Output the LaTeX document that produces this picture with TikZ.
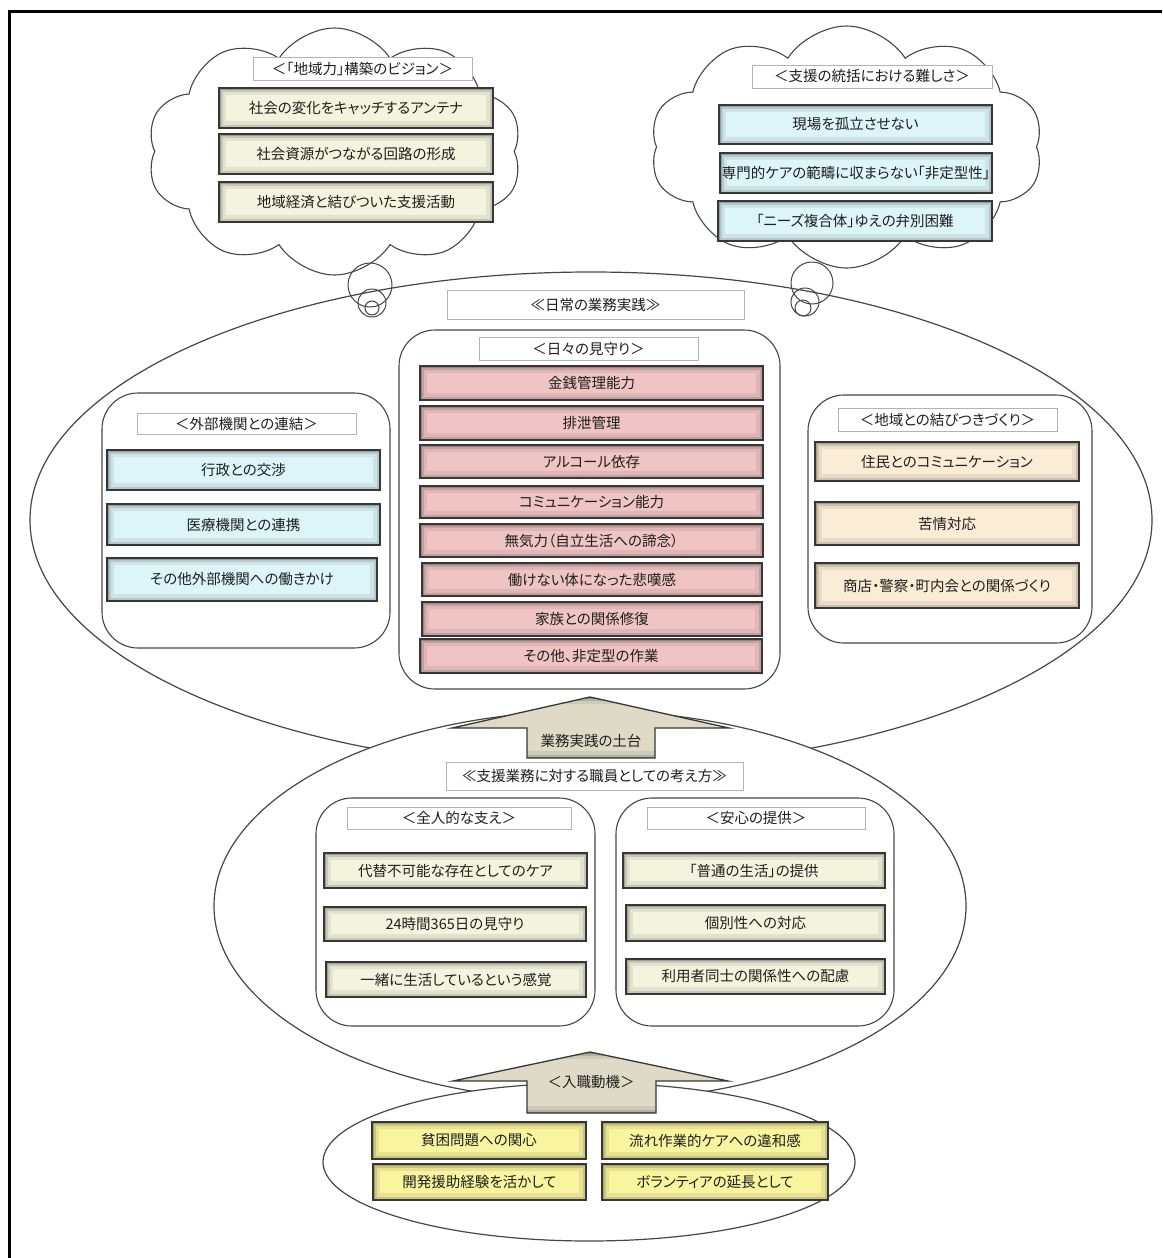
\documentclass[tikz,border=0pt]{standalone}
\usepackage{fontspec}
\setmainfont{Noto Sans CJK JP}[RawFeature=+palt]
\usetikzlibrary{shapes.symbols,shapes.geometric}

\definecolor{cream}{RGB}{244,244,222}
\definecolor{cyanl}{RGB}{221,245,249}
\definecolor{pinkb}{RGB}{240,196,196}
\definecolor{peach}{RGB}{251,236,214}
\definecolor{yell}{RGB}{249,244,158}
\definecolor{beige}{RGB}{222,218,198}
\definecolor{edge}{RGB}{55,55,55}
\definecolor{titleedge}{RGB}{180,180,180}
\definecolor{lineg}{RGB}{70,70,70}
\definecolor{ink}{RGB}{30,30,30}

% box from corner (#3,#4) to corner (#5,#6)
\newcommand\boxat[7]{%
  \node[#2, minimum width={#5pt-#3pt}, minimum height={#6pt-#4pt}] (#1) at ({(#3+#5)/2},{(#4+#6)/2}) {#7};}

\tikzset{
  txt/.style={font=\fontsize{14.5}{16}\selectfont, text=ink},
  bevelfx/.style={path picture={
      \draw[black,opacity=.07,line width=14pt] (path picture bounding box.south west) rectangle (path picture bounding box.north east);
      \draw[black,opacity=.12,line width=7pt] (path picture bounding box.south west) rectangle (path picture bounding box.north east);
      \draw[black,opacity=.20,line width=3pt] (path picture bounding box.south west) rectangle (path picture bounding box.north east);
    }},
  bevel/.style={rectangle, fill=#1, draw=edge, line width=1.3pt, txt, bevelfx},
  ttl/.style={rectangle, fill=white, draw=titleedge, line width=1pt, txt},
  grp/.style={rectangle, rounded corners=36pt, fill=white, draw=lineg, line width=1.1pt},
  ell/.style={ellipse, fill=white, draw=lineg, line width=1.2pt},
  cld/.style={cloud, cloud puffs=10, cloud puff arc=115, fill=white, draw=lineg, line width=1.1pt},
  bub/.style={circle, draw=lineg, line width=1pt},
  fatarrow/.style={fill=beige, draw=edge, line width=1.3pt, bevelfx},
}

\begin{document}
\begin{tikzpicture}[x=1pt,y=-1pt, every node/.style={inner sep=0pt,outer sep=0pt}]
\useasboundingbox (0,0) rectangle (1162,1258);
% page frame
\draw[line width=3pt,black] (9.5,1258) -- (9.5,11.5) -- (1162,11.5);

% three stacked ellipses
\node[ell, minimum width=1122pt, minimum height=496pt] (daily) at (591,520) {};
\node[ell, minimum width=752pt, minimum height=390pt] (mind) at (590,906) {};
\node[ell, minimum width=532pt, minimum height=158pt] (motive) at (589,1162) {};

% thought clouds
\node[cld, minimum width=375pt, minimum height=247pt] (vision) at (334.5,151.5) {};
\node[cld, minimum width=393pt, minimum height=242pt] (hard) at (846.5,147) {};

\node[bub, minimum size=44pt] (vb1) at (370,285) {};
\node[bub, minimum size=28pt] (vb2) at (372,303) {};
\node[bub, minimum size=14pt] (vb3) at (372,308) {};
\node[bub, minimum size=42pt] (hb1) at (812,283) {};
\node[bub, minimum size=28pt] (hb2) at (805,302) {};
\node[bub, minimum size=16pt] (hb3) at (803,308) {};

% cloud: vision
\boxat{vt}{ttl}{253}{57}{472}{80}{＜「地域力」構築のビジョン＞}
\boxat{v1}{bevel=cream}{219}{88}{493}{128}{社会の変化をキャッチするアンテナ}
\boxat{v2}{bevel=cream}{219}{134}{493}{174}{社会資源がつながる回路の形成}
\boxat{v3}{bevel=cream}{219}{182}{493}{222}{地域経済と結びついた支援活動}

% cloud: difficulty
\boxat{ht}{ttl}{752}{65}{992}{88}{＜支援の統括における難しさ＞}
\boxat{h1}{bevel=cyanl}{719}{105}{992}{144}{現場を孤立させない}
\boxat{h2}{bevel=cyanl}{720}{153}{992}{193}{専門的ケアの範疇に収まらない「非定型性」}
\boxat{h3}{bevel=cyanl}{718}{201}{992}{241}{「ニーズ複合体」ゆえの弁別困難}

% daily practice
\boxat{dt}{ttl}{447}{290}{744}{319}{≪日常の業務実践≫}

\boxat{gl}{grp}{102}{393}{390}{648}{}
\boxat{glt}{ttl}{137}{413}{356}{434}{＜外部機関との連結＞}
\boxat{l1}{bevel=cyanl}{107}{450}{380}{490}{行政との交渉}
\boxat{l2}{bevel=cyanl}{107}{504}{380}{545}{医療機関との連携}
\boxat{l3}{bevel=cyanl}{107}{558}{377}{601}{その他外部機関への働きかけ}

\boxat{gc}{grp}{399}{330}{780}{689}{}
\boxat{gct}{ttl}{479}{337}{698}{360}{＜日々の見守り＞}
\boxat{c1}{bevel=pinkb}{420}{366}{763}{400}{金銭管理能力}
\boxat{c2}{bevel=pinkb}{420}{406}{763}{440}{排泄管理}
\boxat{c3}{bevel=pinkb}{420}{445}{763}{478}{アルコール依存}
\boxat{c4}{bevel=pinkb}{420}{486}{763}{518}{コミュニケーション能力}
\boxat{c5}{bevel=pinkb}{420}{524}{763}{557}{無気力（自立生活への諦念）}
\boxat{c6}{bevel=pinkb}{422}{563}{762}{596}{働けない体になった悲嘆感}
\boxat{c7}{bevel=pinkb}{422}{602}{762}{636}{家族との関係修復}
\boxat{c8}{bevel=pinkb}{420}{639}{762}{673}{その他、非定型の作業}

\boxat{gr}{grp}{808}{395}{1092}{643}{}
\boxat{grt}{ttl}{838}{408}{1057}{431}{＜地域との結びつきづくり＞}
\boxat{r1}{bevel=peach}{815}{442}{1079}{481}{住民とのコミュニケーション}
\boxat{r2}{bevel=peach}{815}{502}{1079}{545}{苦情対応}
\boxat{r3}{bevel=peach}{815}{563}{1079}{608}{商店・警察・町内会との関係づくり}

% staff mindset
\boxat{mt}{ttl}{446}{762}{743}{790}{≪支援業務に対する職員としての考え方≫}

\boxat{ml}{grp}{316}{798}{595}{1026}{}
\boxat{mlt}{ttl}{347}{807}{571}{829}{＜全人的な支え＞}
\boxat{ml1}{bevel=cream}{324}{853}{587}{888}{代替不可能な存在としてのケア}
\boxat{ml2}{bevel=cream}{324}{907}{586}{941}{24時間365日の見守り}
\boxat{ml3}{bevel=cream}{326}{962}{586}{997}{一緒に生活しているという感覚}

\boxat{mr}{grp}{616}{798}{894}{1026}{}
\boxat{mrt}{ttl}{647}{807}{865}{829}{＜安心の提供＞}
\boxat{mr1}{bevel=cream}{623}{853}{885}{888}{「普通の生活」の提供}
\boxat{mr2}{bevel=cream}{626}{905}{885}{941}{個別性への対応}
\boxat{mr3}{bevel=cream}{626}{959}{885}{994}{利用者同士の関係性への配慮}

% motivation
\boxat{b1}{bevel=yell}{372}{1122}{586}{1159}{貧困問題への関心}
\boxat{b2}{bevel=yell}{602}{1122}{828}{1159}{流れ作業的ケアへの違和感}
\boxat{b3}{bevel=yell}{373}{1164}{586}{1200}{開発援助経験を活かして}
\boxat{b4}{bevel=yell}{602}{1164}{828}{1200}{ボランティアの延長として}

% upward block arrows
\path[fatarrow] (590,697) -- (729,728) -- (655,728) -- (655,758) -- (527,758) -- (527,728) -- (452,728) -- cycle;
\node[txt] (found) at (591,741) {業務実践の土台};

\path[fatarrow] (590,1052) -- (728,1081) -- (656,1081) -- (656,1113) -- (527,1113) -- (527,1081) -- (453,1081) -- cycle;
\node[txt] (entry) at (591,1082) {＜入職動機＞};
\end{tikzpicture}
\end{document}
